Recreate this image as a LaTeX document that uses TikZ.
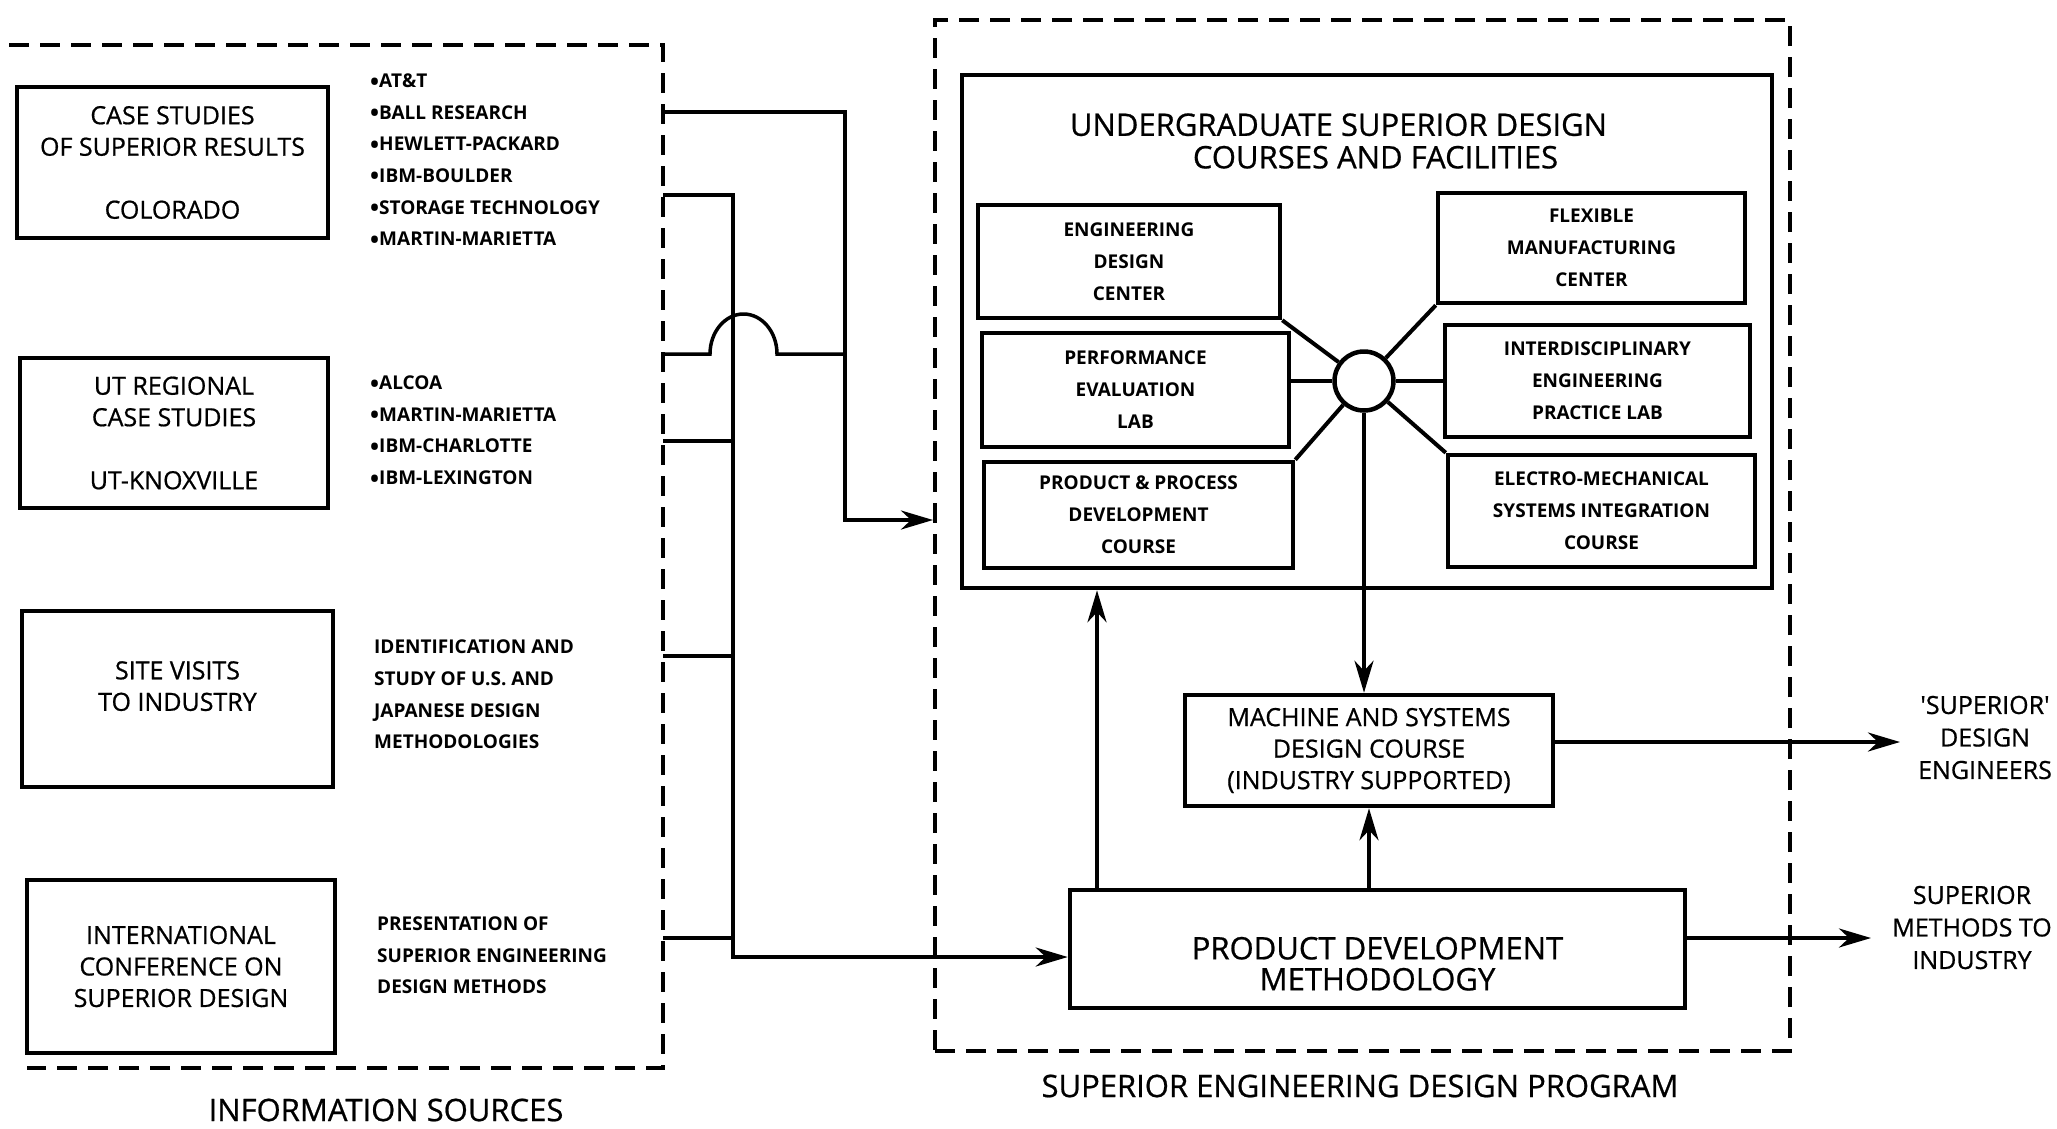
\documentclass[tikz,border=0pt]{standalone}
\usepackage{fontspec}
\setmainfont{Open Sans}
\newfontfamily\medfam[FakeBold=0.7]{Open Sans}
\newcommand\bul{\raisebox{-2.5pt}{\fontsize{24}{0}\selectfont\textbullet}}
\usetikzlibrary{arrows.meta}
\begin{document}
\begin{tikzpicture}[x=1pt,y=-1pt,
  box/.style={draw, line width=4.5pt, align=center, inner sep=0pt},
  lbl/.style={font=\medfam\fontsize{25}{31.5}\selectfont},
  itm/.style={font=\bfseries\fontsize{19}{32}\selectfont},
  lst/.style={font=\bfseries\fontsize{19}{31.6}\selectfont, align=left, inner sep=0pt, anchor=west},
  conn/.style={line width=3.5pt},
  spoke/.style={line width=4pt},
  arr/.style={conn, -{Stealth[length=32pt,width=19pt,inset=10pt]}},
  dframe/.style={line width=4pt, dash pattern=on 20pt off 11pt},
  ttl/.style={font=\medfam\fontsize{31}{32.5}\selectfont, align=center, inner sep=0pt},
  outl/.style={font=\medfam\fontsize{25}{32.5}\selectfont, align=center, inner sep=0pt}
]
\useasboundingbox (0,0) rectangle (2057,1128);

% ---------------- Information sources ----------------
\draw[dframe] (9,45) -- (663,45) -- (663,1068) -- (27,1068);
\node[ttl] (infosrc) at (386,1110) {INFORMATION SOURCES};

\node[box,lbl,minimum width=311pt,minimum height=151pt] (cs) at (172.5,162.5)
  {CASE STUDIES\\OF SUPERIOR RESULTS\\[31.5pt]COLORADO};
\node[box,lbl,minimum width=308pt,minimum height=150pt] (ut) at (174,433)
  {UT REGIONAL\\CASE STUDIES\\[31.5pt]UT-KNOXVILLE};
\node[box,lbl,minimum width=311pt,minimum height=176pt] (sv) at (177.5,699)
  {SITE VISITS\\TO INDUSTRY\rule[-26pt]{0pt}{0pt}};
\node[box,lbl,minimum width=308pt,minimum height=173pt] (ic) at (181,966.5)
  {INTERNATIONAL\\CONFERENCE ON\\SUPERIOR DESIGN};

\node[lst] (l1) at (370,161) {\bul AT\&T\\\bul BALL RESEARCH\\\bul HEWLETT-PACKARD\\\bul IBM-BOULDER\\\bul STORAGE TECHNOLOGY\\\bul MARTIN-MARIETTA};
\node[lst] (l2) at (370,431.5) {\bul ALCOA\\\bul MARTIN-MARIETTA\\\bul IBM-CHARLOTTE\\\bul IBM-LEXINGTON};
\node[lst] (l3) at (374,694.5) {IDENTIFICATION AND\\STUDY OF U.S. AND\\JAPANESE DESIGN\\METHODOLOGIES};
\node[lst] (l4) at (377,955.5) {PRESENTATION OF\\SUPERIOR ENGINEERING\\DESIGN METHODS};

% ---------------- Program ----------------
\node[dframe,draw,minimum width=855pt,minimum height=1031pt,inner sep=0pt] (prog) at (1362.5,535.5) {};
\node[ttl] (sedp) at (1360,1086) {SUPERIOR ENGINEERING DESIGN PROGRAM};

\node[draw,line width=4.5pt,minimum width=810pt,minimum height=513pt,inner sep=0pt] (ugrad) at (1367,331.5) {};
\node[ttl] (ugtitle) at (1338.5,141) {UNDERGRADUATE SUPERIOR DESIGN\\\hspace*{74pt}COURSES AND FACILITIES};

\node[box,itm,minimum width=302pt,minimum height=113pt] (edc) at (1129,261.5) {ENGINEERING\\DESIGN\\CENTER};
\node[box,itm,minimum width=307pt,minimum height=114pt] (pel) at (1135.5,390) {PERFORMANCE\\EVALUATION\\LAB};
\node[box,itm,minimum width=309pt,minimum height=106pt] (ppd) at (1138.5,515) {PRODUCT \& PROCESS\\DEVELOPMENT\\COURSE};
\node[box,itm,minimum width=307pt,minimum height=110pt] (fmc) at (1591.5,248) {FLEXIBLE\\MANUFACTURING\\CENTER};
\node[box,itm,minimum width=305pt,minimum height=112pt] (iep) at (1597.5,381) {INTERDISCIPLINARY\\ENGINEERING\\PRACTICE LAB};
\node[box,itm,minimum width=307pt,minimum height=112pt] (ems) at (1601.5,511) {ELECTRO-MECHANICAL\\SYSTEMS INTEGRATION\\COURSE};

\node[draw,circle,line width=4.5pt,minimum size=59pt,inner sep=0pt] (hub) at (1364,381) {};
\draw[spoke] (edc.south east) -- (hub);
\draw[spoke] (pel.east |- hub) -- (hub);
\draw[spoke] (ppd.north east) -- (hub);
\draw[spoke] (fmc.south west) -- (hub);
\draw[spoke] (iep.west |- hub) -- (hub);
\draw[spoke] (ems.north west) -- (hub);

\node[box,lbl,minimum width=368pt,minimum height=111pt] (mach) at (1369,750.5)
  {MACHINE AND SYSTEMS\\DESIGN COURSE\\(INDUSTRY SUPPORTED)};
\node[box,font=\medfam\fontsize{31}{31}\selectfont,minimum width=615pt,minimum height=118pt] (pdm) at (1377.5,949)
  {\rule{0pt}{52pt}PRODUCT DEVELOPMENT\\METHODOLOGY};

\draw[arr] (hub.south) -- (hub.south |- mach.north);
\draw[arr] (mach.south |- pdm.north) -- (mach.south);
\coordinate (ux) at (1097,0);
\draw[arr] (ux |- pdm.north) -- (ux |- ugrad.south);

% outputs
\coordinate (tA) at (1900,742);
\draw[arr] (mach.east |- tA) -- (tA);
\coordinate (tB) at (1871,938);
\draw[arr] (pdm.east |- tB) -- (tB);
\node[outl] (eng) at (1985,737.5) {'SUPERIOR'\\DESIGN\\ENGINEERS};
\node[outl] (meth) at (1972,927.5) {SUPERIOR\\METHODS TO\\INDUSTRY};

% ---------------- connectors from information sources ----------------
\coordinate (s1) at (663,112);
\coordinate (b1) at (845,112);
\coordinate (b1d) at (845,520);
\draw[arr] (s1) -- (b1) -- (b1d) -- (b1d -| prog.west);

\coordinate (s2) at (663,195);
\coordinate (b2) at (733,195);
\coordinate (b2d) at (733,957);
\draw[arr] (s2) -- (b2) -- (b2d) -- (b2d -| pdm.west);

\coordinate (s3) at (663,354);
\coordinate (h3) at (710,354);
\coordinate (e3) at (845,354);
\draw[conn] (s3) -- (h3) arc[start angle=180,end angle=360,x radius=33.5,y radius=40] -- (e3);

\coordinate (s4) at (663,441);
\draw[conn] (s4) -- (s4 -| b2);
\coordinate (s5) at (663,656);
\draw[conn] (s5) -- (s5 -| b2);
\coordinate (s6) at (663,938);
\draw[conn] (s6) -- (s6 -| b2);
\end{tikzpicture}
\end{document}
